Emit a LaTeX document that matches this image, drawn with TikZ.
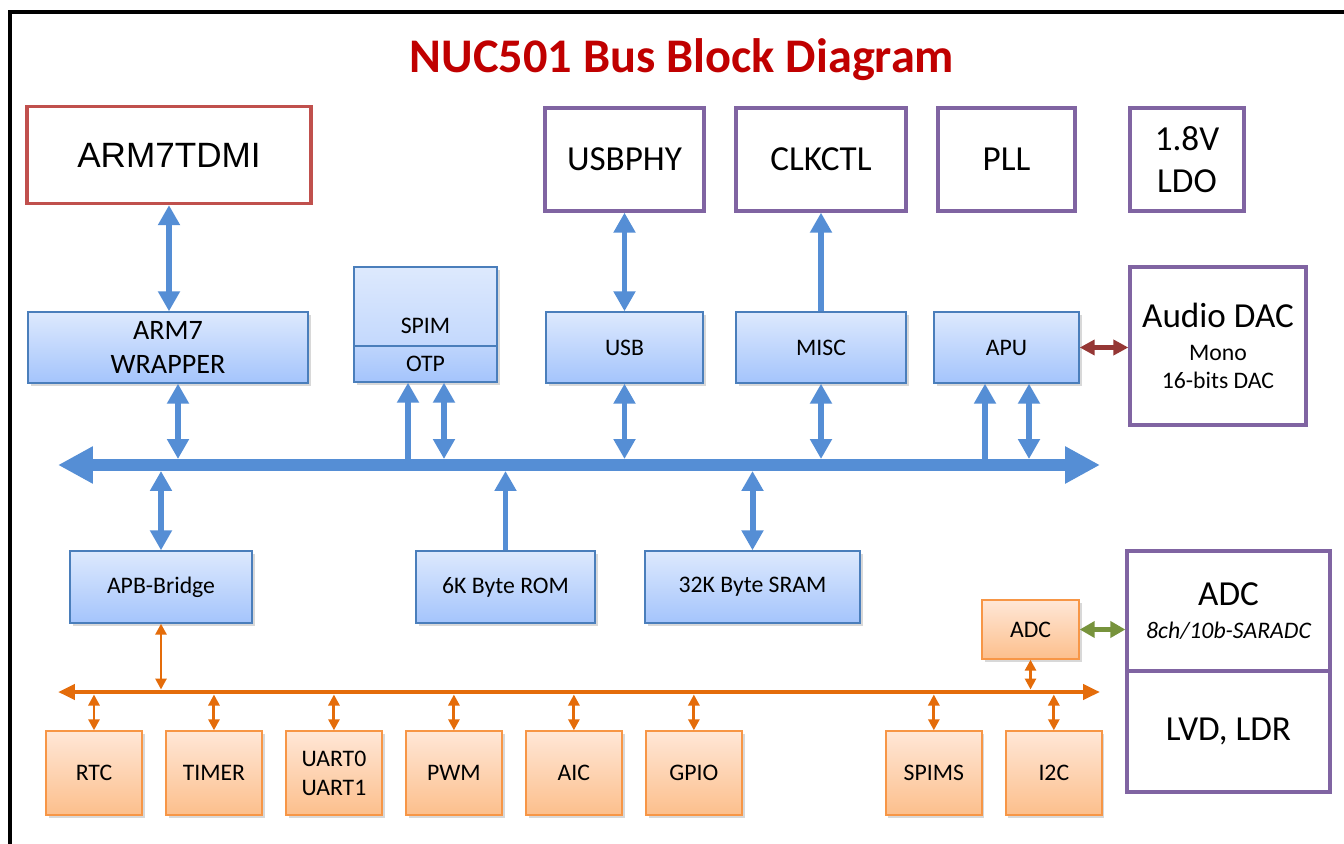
\documentclass[tikz,border=0pt]{standalone}
\usepackage{fontspec}
\setmainfont{Carlito}
\newfontfamily\arialfont{Liberation Sans}
\usetikzlibrary{arrows.meta, positioning, shadows}
\definecolor{titlered}{HTML}{C00000}
\definecolor{cpured}{HTML}{C0504D}
\definecolor{extpurple}{HTML}{8064A2}
\definecolor{ahbline}{HTML}{4A7EBB}
\definecolor{ahbtop}{HTML}{DDE9FD}
\definecolor{ahbbot}{HTML}{A4C4FC}
\definecolor{busblue}{HTML}{558ED5}
\definecolor{apbline}{HTML}{F79646}
\definecolor{apbtop}{HTML}{FFE7D7}
\definecolor{apbbot}{HTML}{FCBF8C}
\definecolor{busorange}{HTML}{E46C0A}
\definecolor{dacred}{HTML}{953735}
\definecolor{adcgreen}{HTML}{77933C}
\tikzstyle{cpu} = [rectangle, draw=cpured, line width=1.9pt, font=\arialfont\fontsize{20}{24}\selectfont]
\tikzstyle{ext} = [rectangle, draw=extpurple, line width=1.9pt, align=center, font=\fontsize{20}{24}\selectfont]
\tikzstyle{ahb} = [rectangle, draw=ahbline, line width=0.8pt, top color=ahbtop, bottom color=ahbbot, align=center, drop shadow={shadow xshift=1.5pt, shadow yshift=-1.8pt, opacity=0.3}, font=\fontsize{13.5}{16.5}\selectfont]
\tikzstyle{apb} = [rectangle, draw=apbline, line width=0.8pt, top color=apbtop, bottom color=apbbot, align=center, drop shadow={shadow xshift=1.5pt, shadow yshift=-1.8pt, opacity=0.3}, minimum width=1.92cm, minimum height=1.68cm, font=\fontsize{13.5}{16.5}\selectfont]
\tikzstyle{ahbbus} = [draw=busblue, line width=6.3pt, {Triangle[length=0.7cm, width=0.7cm]}-{Triangle[length=0.7cm, width=0.7cm]}]
\tikzstyle{apbbus} = [draw=busorange, line width=2.8pt, {Triangle[length=0.34cm, width=0.3cm]}-{Triangle[length=0.34cm, width=0.3cm]}]
\tikzstyle{bio} = [draw=busblue, line width=3.4pt, {Triangle[length=0.4cm, width=0.42cm]}-{Triangle[length=0.4cm, width=0.42cm]}]
\tikzstyle{bone} = [draw=busblue, line width=3.4pt, -{Triangle[length=0.4cm, width=0.42cm]}]
\tikzstyle{oio} = [draw=busorange, line width=1.7pt, {Triangle[length=0.22cm, width=0.22cm]}-{Triangle[length=0.22cm, width=0.22cm]}]
\begin{document}
\begin{tikzpicture}[x=0.02cm, y=-0.02cm, node distance=2.4cm]
\useasboundingbox (0,0) rectangle (1344,844);
\fill[white] (0,0) rectangle (1344,844);
\draw[line width=2.3pt] (10,844) -- (10,12) -- (1344,12);
\node (title) at (682,60) [font=\bfseries\fontsize{27.5}{33}\selectfont, text=titlered] {NUC501 Bus Block Diagram};
\node (arm) at (169,155) [cpu, minimum width=5.68cm, minimum height=1.94cm] {ARM7TDMI};
\node (usbphy) at (624.5,159.5) [ext, minimum width=3.18cm, minimum height=2.06cm] {USBPHY};
\node (clkctl) at (821,159.5) [ext, minimum width=3.4cm, minimum height=2.06cm] {CLKCTL};
\node (pll) at (1006.5,159.5) [ext, minimum width=2.74cm, minimum height=2.06cm] {PLL};
\node (ldo) at (1187,159.5) [ext, minimum width=2.28cm, minimum height=2.06cm] {1.8V\\LDO};
\node (dac) at (1218,346) [ext, minimum width=3.52cm, minimum height=3.16cm] {Audio DAC\\[-5.3pt]{\fontsize{13.5}{16.5}\selectfont Mono}\\[-7.8pt]{\fontsize{13.5}{16.5}\selectfont 16-bits DAC}};
\node (sar) at (1228.5,611) [ext, minimum width=4.06cm, minimum height=2.4cm] {ADC\\[-5pt]{\fontsize{13.5}{16.5}\selectfont\itshape 8ch/10b-SARADC}};
\node (lvd) at (1228.5,731.5) [ext, minimum width=4.06cm, minimum height=2.42cm] {LVD, LDR};
\node (wrap) at (168,347.5) [ahb, minimum width=5.6cm, minimum height=1.42cm, font=\fontsize{16}{19.5}\selectfont] {ARM7\\WRAPPER};
\node (spim) at (425.5,306.5) [ahb, minimum width=2.86cm, minimum height=1.58cm, bottom color=ahbtop!55!ahbbot] {\raisebox{-0.54cm}[0pt][0pt]{SPIM}};
\node (otp) at (425.5,364) [ahb, minimum width=2.86cm, minimum height=0.72cm, top color=ahbtop!45!ahbbot] {OTP};
\node (usb) at (624.5,347.5) [ahb, minimum width=3.14cm, minimum height=1.42cm] {USB};
\node (misc) at (821,347.5) [ahb, minimum width=3.4cm, minimum height=1.42cm] {MISC};
\node (apu) at (1006.5,347.5) [ahb, minimum width=2.9cm, minimum height=1.42cm] {APU};
\node (bridge) at (161,587) [ahb, minimum width=3.64cm, minimum height=1.44cm] {APB-Bridge};
\node (rom) at (505.5,587) [ahb, minimum width=3.58cm, minimum height=1.44cm] {6K Byte ROM};
\node (sram) at (752.5,587) [ahb, minimum width=4.3cm, minimum height=1.44cm] {32K Byte SRAM};
\node (adc) at (1030.5,629.5) [apb, minimum width=1.94cm, minimum height=1.18cm] {ADC};
\node (rtc) at (94,773) [apb] {RTC};
\node (timer) [apb, right of=rtc] {TIMER};
\node (uart) [apb, right of=timer] {UART0\\UART1};
\node (pwm) [apb, right of=uart] {PWM};
\node (aic) [apb, right of=pwm] {AIC};
\node (gpio) [apb, right of=aic] {GPIO};
\node (spims) [apb, right of=gpio, xshift=2.4cm] {SPIMS};
\node (i2c) [apb, right of=spims] {I2C};

\coordinate (ahbleft) at (58,465);
\coordinate (ahbright) at (1100,465);
\coordinate (ahbtop) at (0,459);
\coordinate (ahbbot) at (0,471);
\coordinate (apbleft) at (58,692);
\coordinate (apbright) at (1100,692);
\coordinate (apbtop) at (0,689.5);
\coordinate (apbbot) at (0,694.5);
\coordinate (wrapport) at ([xshift=0.2cm]wrap.south);
\coordinate (spimin) at ([xshift=-0.35cm]otp.south);
\coordinate (spimio) at ([xshift=0.37cm]otp.south);
\coordinate (apuin) at ([xshift=-0.43cm]apu.south);
\coordinate (apuio) at ([xshift=0.45cm]apu.south);

\draw[ahbbus] (ahbleft) -- (ahbright);
\draw[apbbus] (apbleft) -- (apbright);
\draw[bio] (arm.south) -- (arm.south |- wrap.north);
\draw[bio] (wrapport) -- (wrapport |- ahbtop);
\draw[bio] (bridge.north |- ahbbot) -- (bridge.north);
\draw[bone] (spimin |- ahbtop) -- (spimin);
\draw[bio] (spimio) -- (spimio |- ahbtop);
\draw[bio] (usbphy.south) -- (usb.north);
\draw[bio] (usb.south) -- (usb.south |- ahbtop);
\draw[bone] (misc.north) -- (clkctl.south);
\draw[bio] (misc.south) -- (misc.south |- ahbtop);
\draw[bone] (apuin |- ahbtop) -- (apuin);
\draw[bio] (apuio) -- (apuio |- ahbtop);
\draw[bone] (rom.north) -- (rom.north |- ahbbot);
\draw[bio] (sram.north |- ahbbot) -- (sram.north);
\draw[draw=dacred, line width=2.3pt, {Triangle[length=0.3cm, width=0.3cm]}-{Triangle[length=0.3cm, width=0.3cm]}] (apu.east) -- (apu.east -| dac.west);
\draw[draw=adcgreen, line width=2.3pt, {Triangle[length=0.3cm, width=0.32cm]}-{Triangle[length=0.3cm, width=0.32cm]}] (adc.east) -- (adc.east -| sar.west);
\draw[oio] (bridge.south) -- (bridge.south |- apbtop);
\draw[oio] (adc.south) -- (adc.south |- apbtop);
\draw[oio] (rtc.north |- apbbot) -- (rtc.north);
\draw[oio] (timer.north |- apbbot) -- (timer.north);
\draw[oio] (uart.north |- apbbot) -- (uart.north);
\draw[oio] (pwm.north |- apbbot) -- (pwm.north);
\draw[oio] (aic.north |- apbbot) -- (aic.north);
\draw[oio] (gpio.north |- apbbot) -- (gpio.north);
\draw[oio] (spims.north |- apbbot) -- (spims.north);
\draw[oio] (i2c.north |- apbbot) -- (i2c.north);
\end{tikzpicture}
\end{document}
